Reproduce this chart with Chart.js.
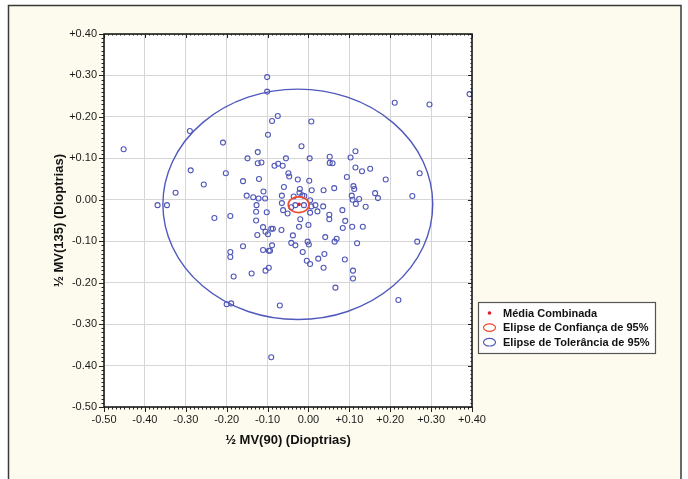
<!DOCTYPE html>
<html>
<head>
<meta charset="utf-8">
<script src="https://cdn.jsdelivr.net/npm/chart.js@4.4.1/dist/chart.umd.min.js"></script>
<style>
  html, body { margin: 0; padding: 0; background: #fff; }
  canvas { display: block; }
</style>
</head>
<body>
<canvas id="myChart" width="688" height="479"></canvas>
<script>
// ½ MV(90) values of each eye
const mv90 = [
  -0.101, -0.101, 0.394, 0.211, 0.296, -0.075, -0.089, 0.007, -0.290, -0.099,
  -0.452, -0.209, -0.017, -0.124, 0.115, -0.149, 0.003, 0.052, 0.103, -0.124,
  -0.115, -0.055, 0.052, 0.059, -0.083, -0.074, -0.063, 0.115, 0.151, 0.131,
  -0.288, -0.202, -0.049, -0.047, -0.121, -0.160, -0.026, 0.002, 0.094, 0.189,
  0.272, -0.256, -0.325, -0.060, -0.021, 0.008, 0.037, 0.063, 0.110, 0.112,
  -0.110, -0.151, -0.135, -0.122, -0.106, -0.065, -0.036, -0.015, -0.010, 0.004,
  -0.022, 0.106, 0.108, 0.124, 0.116, 0.163, 0.170, 0.254, 0.140, -0.369,
  -0.346, -0.127, -0.065, -0.042, -0.032, -0.011, 0.007, 0.017, 0.036, -0.062,
  -0.051, -0.128, -0.102, 0.004, 0.022, 0.051, 0.083, -0.230, -0.191, -0.020,
  0.051, 0.090, -0.128, -0.111, -0.105, -0.091, -0.087, -0.066, -0.099, -0.125,
  -0.023, 0.000, 0.084, 0.107, 0.133, -0.038, 0.041, 0.069, 0.064, -0.002,
  0.001, -0.042, -0.032, 0.119, 0.266, -0.160, -0.089, -0.111, -0.097, -0.094,
  -0.191, -0.191, -0.014, 0.039, 0.024, -0.004, 0.004, 0.089, 0.037, -0.097,
  -0.105, -0.139, -0.183, 0.109, 0.109, 0.066, 0.220, -0.200, -0.189, -0.070,
  -0.091
];

// ½ MV(135) values of each eye
const mv135 = [
  0.296, 0.261, 0.255, 0.234, 0.230, 0.202, 0.190, 0.189, 0.166, 0.157,
  0.122, 0.138, 0.129, 0.115, 0.117, 0.100, 0.100, 0.104, 0.102, 0.088,
  0.090, 0.100, 0.089, 0.088, 0.082, 0.087, 0.082, 0.078, 0.075, 0.069,
  0.071, 0.064, 0.064, 0.056, 0.050, 0.045, 0.049, 0.046, 0.055, 0.049,
  0.064, 0.037, 0.017, 0.031, 0.026, 0.023, 0.023, 0.028, 0.033, 0.026,
  0.020, 0.010, 0.006, 0.003, 0.003, 0.010, 0.008, 0.011, 0.009, -0.001,
  0.017, 0.010, 0.000, 0.002, -0.010, 0.016, 0.004, 0.009, -0.017, -0.013,
  -0.013, -0.013, -0.008, -0.018, -0.013, -0.013, -0.016, -0.013, -0.016, -0.025,
  -0.033, -0.029, -0.030, -0.031, -0.028, -0.036, -0.025, -0.044, -0.039, -0.047,
  -0.047, -0.051, -0.050, -0.066, -0.077, -0.070, -0.070, -0.073, -0.083, -0.085,
  -0.065, -0.061, -0.068, -0.065, -0.065, -0.086, -0.090, -0.094, -0.101, -0.101,
  -0.108, -0.104, -0.110, -0.105, -0.101, -0.112, -0.110, -0.121, -0.123, -0.123,
  -0.126, -0.138, -0.126, -0.131, -0.142, -0.147, -0.155, -0.144, -0.164, -0.164,
  -0.171, -0.178, -0.185, -0.171, -0.190, -0.212, -0.242, -0.252, -0.250, -0.255,
  -0.380
];

// combined mean and 95% ellipses: [centre x, centre y, half width, half height]
const meanPoint = [-0.023, -0.011];
const confidenceEllipse = [-0.024, -0.012, 0.0255, 0.019];
const toleranceEllipse = [-0.026, -0.011, 0.330, 0.278];

const axisMin = -0.5;
const axisMax = 0.4;
const tickStep = 0.1;
const minorStep = 0.01;

const xTitle = "½ MV(90) (Dioptrias)";
const yTitle = "½ MV(135) (Dioptrias)";
const legendLabels = ["Média Combinada", "Elipse de Confiança de 95%", "Elipse de Tolerância de 95%"];

const pointBlue = "#5057b8";
const ellipseBlue = "#5159bd";
const ellipseRed = "#ee4a2e";
const meanRed = "#e01e28";
const cream = "#fdfbee";

const fmtTick = v => {
  if (Math.abs(v) < 1e-9) return "0.00";
  return (v > 0 ? "+" : "") + v.toFixed(2);
};

const scatterData = mv90.map((x, i) => ({ x: x, y: mv135[i] }));

const drawEllipse = (ctx, xs, ys, e, color, width) => {
  const cx = xs.getPixelForValue(e[0]);
  const cy = ys.getPixelForValue(e[1]);
  const rx = Math.abs(xs.getPixelForValue(e[0] + e[2]) - cx);
  const ry = Math.abs(ys.getPixelForValue(e[1] + e[3]) - cy);
  ctx.save();
  ctx.strokeStyle = color;
  ctx.lineWidth = width;
  ctx.beginPath();
  ctx.ellipse(cx, cy, rx, ry, 0, 0, Math.PI * 2);
  ctx.stroke();
  ctx.restore();
};

const framePlugin = {
  id: "frame",
  beforeDraw(chart) {
    const ctx = chart.ctx;
    const a = chart.chartArea;
    ctx.save();
    ctx.fillStyle = "#fff";
    ctx.fillRect(0, 0, chart.width, chart.height);
    ctx.fillStyle = cream;
    ctx.fillRect(8, 5, 673, chart.height);
    ctx.strokeStyle = "#3a3a3a";
    ctx.lineWidth = 1.5;
    ctx.beginPath();
    ctx.moveTo(8.5, chart.height + 2);
    ctx.lineTo(8.5, 5.5);
    ctx.lineTo(681, 5.5);
    ctx.lineTo(681, chart.height + 2);
    ctx.stroke();
    ctx.fillStyle = "#fff";
    ctx.fillRect(a.left, a.top, a.right - a.left, a.bottom - a.top);
    ctx.restore();
  },
  afterDatasetsDraw(chart) {
    const ctx = chart.ctx;
    const a = chart.chartArea;
    const xs = chart.scales.x;
    const ys = chart.scales.y;
    drawEllipse(ctx, xs, ys, toleranceEllipse, ellipseBlue, 1.4);
    drawEllipse(ctx, xs, ys, confidenceEllipse, ellipseRed, 1.6);

    ctx.save();
    ctx.strokeStyle = "#222";
    ctx.lineWidth = 1;
    ctx.beginPath();
    const n = Math.round((axisMax - axisMin) / minorStep);
    for (let i = 0; i <= n; i++) {
      const v = axisMin + i * minorStep;
      const major = i % 10 === 0;
      const len = major ? 5 : 2.5;
      const px = Math.round(xs.getPixelForValue(v)) + 0.5;
      const py = Math.round(ys.getPixelForValue(v)) + 0.5;
      ctx.moveTo(px, a.bottom);
      ctx.lineTo(px, a.bottom + len);
      ctx.moveTo(px, a.top);
      ctx.lineTo(px, a.top + len - 1);
      ctx.moveTo(a.left, py);
      ctx.lineTo(a.left - len, py);
      ctx.moveTo(a.right, py);
      ctx.lineTo(a.right - len + 1, py);
    }
    ctx.stroke();
    ctx.lineWidth = 1.6;
    ctx.strokeStyle = "#1c1c1c";
    ctx.strokeRect(a.left, a.top, a.right - a.left, a.bottom - a.top);
    ctx.restore();
  },
  afterDraw(chart) {
    const ctx = chart.ctx;
    const a = chart.chartArea;
    const bx = a.right + 6;
    const by = 302;
    const bw = 177;
    const rowH = 14.6;
    ctx.save();
    ctx.fillStyle = "#fff";
    ctx.fillRect(bx, by, bw, 51);
    ctx.strokeStyle = "#555";
    ctx.lineWidth = 1.2;
    ctx.strokeRect(bx + 0.5, by + 0.5, bw, 51);
    ctx.font = "bold 11px 'Liberation Sans', Arial, sans-serif";
    ctx.fillStyle = "#111";
    ctx.textBaseline = "middle";
    legendLabels.forEach((label, i) => {
      const cy = by + 11 + i * rowH;
      const ix = bx + 11.5;
      if (i === 0) {
        ctx.fillStyle = meanRed;
        ctx.beginPath();
        ctx.arc(ix, cy, 1.8, 0, Math.PI * 2);
        ctx.fill();
      } else {
        ctx.strokeStyle = i === 1 ? ellipseRed : ellipseBlue;
        ctx.lineWidth = 1.2;
        ctx.beginPath();
        ctx.ellipse(ix, cy, 6, 3.8, 0, 0, Math.PI * 2);
        ctx.stroke();
      }
      ctx.fillStyle = "#111";
      ctx.fillText(label, bx + 25, cy + 0.5);
    });
    ctx.restore();
  }
};

const tickFont = { family: "'Liberation Sans', Arial, sans-serif", size: 11 };
const titleFont = { family: "'Liberation Sans', Arial, sans-serif", size: 13, weight: "bold" };

let ctx = document.getElementById("myChart").getContext("2d");
let chart = new Chart(ctx, {
  type: "scatter",
  data: {
    datasets: [
      {
        label: "Olhos",
        data: scatterData,
        pointStyle: "circle",
        pointRadius: 2.5,
        pointBorderWidth: 1.1,
        borderColor: pointBlue,
        backgroundColor: "rgba(0,0,0,0)"
      },
      {
        label: legendLabels[0],
        data: [{ x: meanPoint[0], y: meanPoint[1] }],
        pointRadius: 1.8,
        pointBorderWidth: 0,
        borderColor: meanRed,
        backgroundColor: meanRed
      }
    ]
  },
  options: {
    responsive: false,
    animation: false,
    devicePixelRatio: 1,
    layout: { padding: { top: 34, right: 216, left: 0, bottom: 0 } },
    plugins: {
      legend: { display: false },
      tooltip: { enabled: false }
    },
    scales: {
      x: {
        type: "linear",
        min: axisMin,
        max: axisMax,
        afterFit: s => { s.height = 72; },
        border: { display: false },
        grid: { color: "#d6d6d6", lineWidth: 1, drawTicks: false },
        ticks: {
          stepSize: tickStep,
          padding: 6,
          color: "#1a1a1a",
          font: tickFont,
          maxRotation: 0,
          callback: fmtTick
        },
        title: {
          display: true,
          text: xTitle,
          color: "#111",
          font: titleFont,
          padding: { top: 0, bottom: 31 }
        }
      },
      y: {
        type: "linear",
        min: axisMin,
        max: axisMax,
        afterFit: s => { s.width = 104; },
        border: { display: false },
        grid: { color: "#d6d6d6", lineWidth: 1, drawTicks: false },
        ticks: {
          stepSize: tickStep,
          padding: 7,
          color: "#1a1a1a",
          font: tickFont,
          callback: fmtTick
        },
        title: {
          display: true,
          text: yTitle,
          color: "#111",
          font: titleFont,
          padding: { top: 52, bottom: 0 }
        }
      }
    }
  },
  plugins: [framePlugin]
});
</script>
</body>
</html>
